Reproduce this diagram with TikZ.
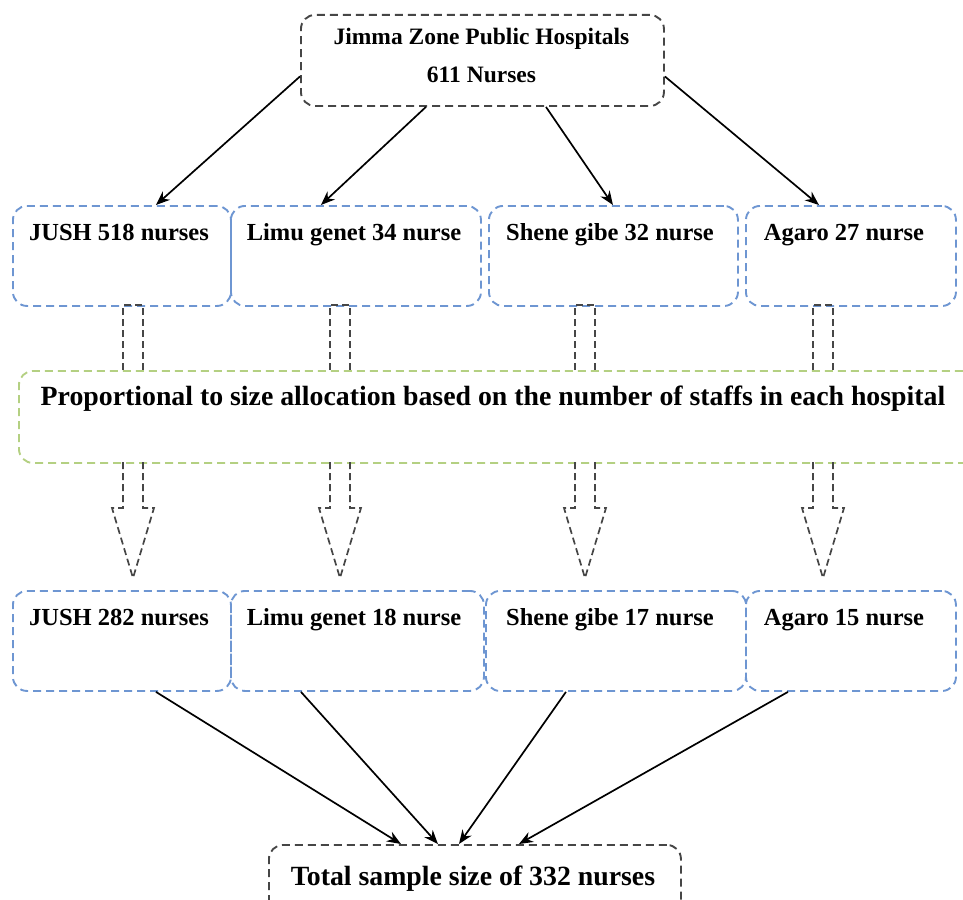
\documentclass[tikz,border=0pt]{standalone}
\usepackage{fontspec}
\setmainfont{Liberation Serif}
\usetikzlibrary{arrows.meta}
\definecolor{bluedash}{RGB}{110,150,210}
\definecolor{greendash}{RGB}{180,208,130}
\definecolor{graydash}{RGB}{70,70,70}
\begin{document}
\begin{tikzpicture}[x=1pt,y=-1pt,
  boxbase/.style={rectangle, rounded corners=14pt, line width=1.9pt, dash pattern=on 8pt off 5pt, inner sep=0pt, anchor=north west},
  bluebox/.style={boxbase, draw=bluedash, minimum height=100pt},
  graybox/.style={boxbase, draw=graydash},
  greenbox/.style={boxbase, draw=greendash},
  rowtext/.style={anchor=base, inner sep=0pt, font=\fontsize{24.5}{28}\bfseries\selectfont},
  toptext/.style={anchor=base, inner sep=0pt, font=\fontsize{23.5}{28}\bfseries\selectfont},
  bigtext/.style={anchor=base, inner sep=0pt, font=\fontsize{27.8}{32}\bfseries\selectfont},
  arr/.style={draw=black, line width=1.7pt, -{Stealth[length=14pt,width=11pt]}},
  hollow/.style={draw=graydash, line width=1.7pt, dash pattern=on 7pt off 4pt, line join=miter}
]
\useasboundingbox (0,0) rectangle (963,899);
\clip (0,0) rectangle (963,899);

% top box
\node[graybox, minimum width=363pt, minimum height=91pt] (top) at (300,14) {};
\node[toptext] (topt1) at (481.5,45) {Jimma Zone Public Hospitals};
\node[toptext] (topt2) at (481.5,82) {611 Nurses};

% row 1
\node[bluebox, minimum width=218pt] (a1) at (12,205) {};
\node[bluebox, minimum width=250pt] (a2) at (230,205) {};
\node[bluebox, minimum width=249pt] (a3) at (488,205) {};
\node[bluebox, minimum width=210pt] (a4) at (745,205) {};
\node[rowtext] at (119,240) {JUSH 518 nurses};
\node[rowtext] at (354,240) {Limu genet 34 nurse};
\node[rowtext] at (610,240) {Shene gibe 32 nurse};
\node[rowtext] at (844,240) {Agaro 27 nurse};

% green box
\node[greenbox, minimum width=958pt, minimum height=92pt] (prop) at (18,370) {};
\node[bigtext] (propt) at (493,405) {Proportional to size allocation based on the number of staffs in each hospital};

% row 2
\node[bluebox, minimum width=218pt] (b1) at (12,590) {};
\node[bluebox, minimum width=253pt] (b2) at (230,590) {};
\node[bluebox, minimum width=260pt] (b3) at (485,590) {};
\node[bluebox, minimum width=210pt] (b4) at (745,590) {};
\node[rowtext] at (119,625) {JUSH 282 nurses};
\node[rowtext] at (354,625) {Limu genet 18 nurse};
\node[rowtext] at (610,625) {Shene gibe 17 nurse};
\node[rowtext] at (844,625) {Agaro 15 nurse};

% bottom box
\node[graybox, minimum width=412pt, minimum height=80pt] (tot) at (268,844) {};
\node[bigtext] (tott) at (473,885) {Total sample size of 332 nurses};

% arrows top -> row1
\draw[arr] ([yshift=-16pt]top.west) -- ([xshift=34pt]a1.north);
\draw[arr] ([xshift=-56.5pt]top.south) -- ([xshift=-35pt]a2.north);
\draw[arr] ([xshift=63.5pt]top.south) -- ([xshift=-0.5pt]a3.north);
\draw[arr] ([yshift=-16pt]top.east) -- ([xshift=-32pt]a4.north);

% arrows row2 -> total
\draw[arr] ([xshift=34pt]b1.south) -- ([xshift=-74pt]tot.north);
\draw[arr] ([xshift=-56.5pt]b2.south) -- ([xshift=-37pt]tot.north);
\draw[arr] ([xshift=-50pt]b3.south) -- ([xshift=-16pt]tot.north);
\draw[arr] ([xshift=-63pt]b4.south) -- ([xshift=44pt]tot.north);

% hollow dashed arrows
\foreach \cx in {133,340,585,823}{
  \draw[hollow] (\cx-10,370) -- (\cx-10,305) -- (\cx+10,305) -- (\cx+10,370);
  \draw[hollow] (\cx-10,462) -- (\cx-10,508) -- (\cx-21,508) -- (\cx,578) -- (\cx+21,508) -- (\cx+10,508) -- (\cx+10,462);
}
\end{tikzpicture}
\end{document}
